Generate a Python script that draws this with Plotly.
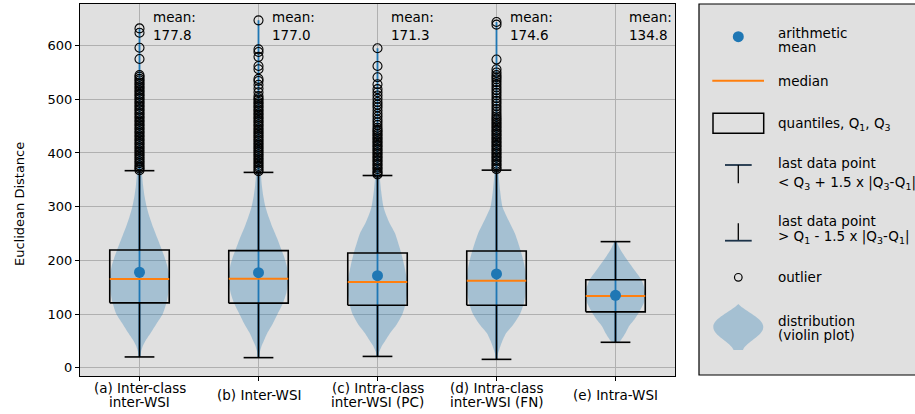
import plotly.graph_objects as go

# ---------------- data ----------------
categories = ["(a) Inter-class\ninter-WSI", "(b) Inter-WSI", "(c) Intra-class\ninter-WSI (PC)",
              "(d) Intra-class\ninter-WSI (FN)", "(e) Intra-WSI"]
positions = [1, 2, 3, 4, 5]
means = [177.8, 177.0, 171.3, 174.6, 134.8]
medians = [165.0, 165.6, 159.4, 161.9, 133.3]
q1 = [120.8, 120.2, 116.4, 116.4, 104.0]
q3 = [219.3, 218.0, 213.6, 217.4, 163.7]
whisker_low = [20.0, 18.7, 21.0, 15.5, 47.3]
whisker_high = [367.0, 363.8, 358.0, 368.0, 234.8]

outliers_a = [632, 624, 596, 575, 545, 542, 538, 535, 531, 528, 524, 521, 517, 514, 510, 507, 503, 500,
              496, 493, 489, 486, 482, 479, 475, 472, 468, 465, 461, 458, 454, 451, 447, 444, 440, 437,
              433, 430, 426, 423, 419, 416, 412, 409, 405, 402, 398, 395, 391, 388, 384, 381, 377, 374,
              371, 368]
outliers_b = [647, 593, 588, 579, 562, 556, 538, 534, 527, 520, 513, 506, 502, 499, 495, 492, 488, 485,
              481, 478, 474, 471, 467, 464, 460, 457, 453, 450, 446, 443, 439, 436, 432, 429, 425, 422,
              418, 415, 411, 408, 404, 401, 397, 394, 390, 387, 383, 380, 376, 373, 369, 366]
outliers_c = [595, 562, 541, 528, 519, 513, 507, 501, 495, 490, 485, 479, 473, 468, 462, 457, 452, 447,
              443, 440, 436, 433, 429, 426, 422, 419, 415, 412, 408, 405, 401, 398, 394, 391, 387, 384,
              380, 377, 373, 370, 366, 363, 360]
outliers_d = [644, 639, 574, 556, 550, 545, 541, 537, 532, 527, 522, 517, 512, 507, 502, 497, 492, 487,
              482, 477, 472, 468, 464, 461, 457, 454, 450, 447, 443, 440, 436, 433, 429, 426, 422, 419,
              415, 412, 408, 405, 401, 398, 394, 391, 387, 384, 380, 377, 373, 370]
outliers_e = []
outliers = [outliers_a, outliers_b, outliers_c, outliers_d, outliers_e]

# violin profiles: value levels and half-widths (in category units)
violin_y_a = [20, 30, 40, 51, 65, 82, 100, 120, 140, 160, 175, 190, 205, 220, 240, 260, 280, 300, 320,
              340, 370, 420, 500, 632]
violin_w_a = [0.004, 0.013, 0.027, 0.053, 0.095, 0.143, 0.195, 0.225, 0.243, 0.25, 0.246, 0.233, 0.212,
              0.187, 0.152, 0.117, 0.086, 0.06, 0.042, 0.03, 0.018, 0.008, 0.003, 0.0]
violin_y_b = [18.7, 30, 40, 50, 65, 82, 100, 120, 140, 160, 175, 190, 205, 220, 240, 260, 280, 300, 320,
              340, 370, 420, 500, 647]
violin_w_b = [0.004, 0.012, 0.025, 0.045, 0.075, 0.12, 0.16, 0.205, 0.235, 0.248, 0.248, 0.237, 0.218,
              0.192, 0.158, 0.12, 0.087, 0.058, 0.04, 0.028, 0.017, 0.008, 0.003, 0.0]
violin_y_c = [21, 30, 40, 50, 64, 80, 100, 120, 140, 155, 170, 190, 213, 235, 250, 270, 285, 300, 330,
              360, 420, 500, 595]
violin_w_c = [0.004, 0.015, 0.035, 0.065, 0.105, 0.16, 0.21, 0.237, 0.25, 0.25, 0.243, 0.225, 0.2, 0.17,
              0.148, 0.1, 0.072, 0.05, 0.03, 0.018, 0.007, 0.002, 0.0]
violin_y_d = [15.5, 25, 35, 50, 64, 80, 101, 120, 140, 160, 180, 200, 220, 250, 275, 300, 330, 360, 420,
              500, 644]
violin_w_d = [0.003, 0.01, 0.025, 0.05, 0.08, 0.14, 0.2, 0.23, 0.245, 0.25, 0.243, 0.225, 0.2, 0.155, 0.1,
              0.05, 0.03, 0.018, 0.007, 0.002, 0.0]
violin_y_e = [47.3, 51, 63, 76, 90, 104, 120, 133, 148, 163, 180, 200, 215, 225, 234.8]
violin_w_e = [0.03, 0.045, 0.08, 0.11, 0.16, 0.2, 0.237, 0.25, 0.243, 0.22, 0.165, 0.1, 0.055, 0.03, 0.008]
violin_ys = [violin_y_a, violin_y_b, violin_y_c, violin_y_d, violin_y_e]
violin_ws = [violin_w_a, violin_w_b, violin_w_c, violin_w_d, violin_w_e]

y_ticks = [0, 100, 200, 300, 400, 500, 600]
y_title = "Euclidean Distance"
legend_labels = [["arithmetic", "mean"], ["median"], ["quantiles, Q<sub>1</sub>, Q<sub>3</sub>"],
                 ["last data point", "< Q<sub>3</sub> + 1.5 x |Q<sub>3</sub>-Q<sub>1</sub>|"],
                 ["last data point", "> Q<sub>1</sub> - 1.5 x |Q<sub>3</sub>-Q<sub>1</sub>|"],
                 ["outlier"], ["distribution", "(violin plot)"]]

# ---------------- style / layout ----------------
W, H = 915, 414
ML, MR, MT, MB = 80, 240, 4, 38
PW, PH = W - ML - MR, H - MT - MB
BLUE = "#1f77b4"
ORANGE = "#ff7f0e"
VIOLIN = "rgba(31,119,180,0.3)"
BG = "#e0e0e0"
GRID = "#b0b0b0"
FONT = "DejaVu Sans"
BOX_HALF = 0.25
CAP_HALF = 0.125


def px(x):
    return (x - ML) / PW


def py(y):
    return (H - MB - y) / PH


fig = go.Figure()

# violins
for p, vy, vw in zip(positions, violin_ys, violin_ws):
    xs = [p + w for w in vw] + [p - w for w in reversed(vw)]
    ys = list(vy) + list(reversed(vy))
    fig.add_trace(go.Scatter(x=xs, y=ys, fill="toself", fillcolor=VIOLIN, mode="lines",
                             line=dict(width=0, color=VIOLIN, shape="spline", smoothing=0.6),
                             hoverinfo="skip", showlegend=False))

# extrema bars of violins (blue)
cx, cy = [], []
for p, lo, hi, out in zip(positions, whisker_low, whisker_high, outliers):
    top = max(out) if out else hi
    cx += [p, p, None]
    cy += [lo, top, None]
fig.add_trace(go.Scatter(x=cx, y=cy, mode="lines", line=dict(color=BLUE, width=1.8),
                         hoverinfo="skip", showlegend=False))

# whiskers (black)
wx, wy = [], []
for p, lo, hi, a, b in zip(positions, whisker_low, whisker_high, q1, q3):
    wx += [p, p, None, p, p, None, p - CAP_HALF, p + CAP_HALF, None, p - CAP_HALF, p + CAP_HALF, None]
    wy += [a, lo, None, b, hi, None, lo, lo, None, hi, hi, None]
fig.add_trace(go.Scatter(x=wx, y=wy, mode="lines", line=dict(color="black", width=1.6),
                         hoverinfo="skip", showlegend=False))

# boxes
bx, by = [], []
for p, a, b in zip(positions, q1, q3):
    bx += [p - BOX_HALF, p + BOX_HALF, p + BOX_HALF, p - BOX_HALF, p - BOX_HALF, None]
    by += [a, a, b, b, a, None]
fig.add_trace(go.Scatter(x=bx, y=by, mode="lines", line=dict(color="black", width=1.6),
                         hoverinfo="skip", showlegend=False))

# medians
mx, my = [], []
for p, m in zip(positions, medians):
    mx += [p - BOX_HALF, p + BOX_HALF, None]
    my += [m, m, None]
fig.add_trace(go.Scatter(x=mx, y=my, mode="lines", line=dict(color=ORANGE, width=2),
                         hoverinfo="skip", showlegend=False))

# outliers
ox, oy = [], []
for p, out in zip(positions, outliers):
    ox += [p] * len(out)
    oy += out
fig.add_trace(go.Scatter(x=ox, y=oy, mode="markers",
                         marker=dict(symbol="circle-open", size=9, color="black", line=dict(width=1.1, color="black")),
                         hoverinfo="skip", showlegend=False))

# means
fig.add_trace(go.Scatter(x=positions, y=means, mode="markers",
                         marker=dict(symbol="circle", size=11, color=BLUE),
                         hoverinfo="skip", showlegend=False))

annotations = []
# mean text
for p, m in zip(positions, means):
    annotations.append(dict(x=p + 0.1, xref="x", y=py(26.5), yref="paper", xanchor="left", yanchor="middle",
                            text=f"mean:<br>{m:.1f}", align="left", showarrow=False,
                            font=dict(family=FONT, size=13.5, color="black")))

# category labels
for p, c in zip(positions, categories):
    lines = c.split("\n")
    n = len(lines)
    for i, ln in enumerate(lines):
        yc = 395 + (i - (n - 1) / 2) * 14.5
        annotations.append(dict(x=p, xref="x", y=py(yc), yref="paper", xanchor="center", yanchor="middle",
                                text=ln, showarrow=False, font=dict(family=FONT, size=13.5, color="black")))

# y title
annotations.append(dict(x=px(19), xref="paper", y=py(204), yref="paper", text=y_title, textangle=-90,
                        xanchor="center", yanchor="middle", showarrow=False,
                        font=dict(family=FONT, size=13, color="black")))

# legend panel texts
legend_line_y = [[33.3, 46.7], [80.5], [124], [163.5, 182.5], [221, 236.5], [277], [320.5, 334.5]]
for labels, ys in zip(legend_labels, legend_line_y):
    for t, yy in zip(labels, ys):
        annotations.append(dict(x=px(776), xref="paper", y=py(yy), yref="paper", xanchor="left",
                                yanchor="middle", text=t, showarrow=False,
                                font=dict(family=FONT, size=13.5, color="black")))

shapes = []
# legend frame
shapes.append(dict(type="rect", xref="paper", yref="paper", x0=px(699), x1=px(940), y0=py(4), y1=py(375),
                   fillcolor=BG, line=dict(color="black", width=1.2), layer="below"))
# mean symbol
shapes.append(dict(type="circle", xref="paper", yref="paper", x0=px(738.3 - 5.5), x1=px(738.3 + 5.5),
                   y0=py(36.7 - 5.5), y1=py(36.7 + 5.5), fillcolor=BLUE, line=dict(width=0)))
# median symbol
shapes.append(dict(type="line", xref="paper", yref="paper", x0=px(712.3), x1=px(764), y0=py(80.7), y1=py(80.7),
                   line=dict(color=ORANGE, width=2)))
# quantile box symbol
shapes.append(dict(type="rect", xref="paper", yref="paper", x0=px(713), x1=px(763.7), y0=py(113.3),
                   y1=py(133.3), line=dict(color="black", width=1.5)))
# upper whisker symbol
shapes.append(dict(type="line", xref="paper", yref="paper", x0=px(725), x1=px(751.7), y0=py(165), y1=py(165),
                   line=dict(color="#1c3349", width=1.8)))
shapes.append(dict(type="line", xref="paper", yref="paper", x0=px(738.3), x1=px(738.3), y0=py(165),
                   y1=py(183.3), line=dict(color="black", width=1.3)))
# lower whisker symbol
shapes.append(dict(type="line", xref="paper", yref="paper", x0=px(738.3), x1=px(738.3), y0=py(223.3),
                   y1=py(240.7), line=dict(color="black", width=1.3)))
shapes.append(dict(type="line", xref="paper", yref="paper", x0=px(725), x1=px(751.7), y0=py(240.7),
                   y1=py(240.7), line=dict(color="#1c3349", width=1.8)))
# outlier symbol
shapes.append(dict(type="circle", xref="paper", yref="paper", x0=px(738.3 - 3.8), x1=px(738.3 + 3.8),
                   y0=py(277.3 - 3.8), y1=py(277.3 + 3.8), line=dict(color="black", width=1.2)))


def path_from(cmds):
    out = []
    for c in cmds:
        if isinstance(c, str):
            out.append(c)
        else:
            out.append(f"{px(c[0]):.5f},{py(c[1]):.5f}")
    return " ".join(out)


violin_path = path_from(["M", (738.3, 304), "C", (746, 312), (763.3, 318), (763.3, 327),
                         "C", (763.3, 336), (746, 342), (743, 350), "L", (733.6, 350),
                         "C", (730.6, 342), (713.3, 336), (713.3, 327),
                         "C", (713.3, 318), (730.6, 312), (738.3, 304), "Z"])
shapes.append(dict(type="path", xref="paper", yref="paper", path=violin_path, fillcolor=VIOLIN,
                   line=dict(width=0)))

fig.update_layout(
    width=W, height=H, margin=dict(l=ML, r=MR, t=MT, b=MB),
    paper_bgcolor="white", plot_bgcolor=BG,
    showlegend=False, annotations=annotations, shapes=shapes,
    font=dict(family=FONT, size=13, color="black"),
)
fig.update_xaxes(range=[0.5, 5.5], tickvals=positions, ticktext=[""] * len(positions), showgrid=True,
                 gridcolor=GRID, gridwidth=1, zeroline=False, showline=True, linecolor="black", linewidth=1.2,
                 mirror=True, ticks="outside", ticklen=4, tickcolor="black")
fig.update_yaxes(range=[-15.5, 677.5], tickvals=y_ticks, ticktext=[str(v) for v in y_ticks], showgrid=True,
                 gridcolor=GRID, gridwidth=1, zeroline=False, showline=True, linecolor="black", linewidth=1.2,
                 mirror=True, ticks="outside", ticklen=4, tickcolor="black",
                 tickfont=dict(family=FONT, size=13, color="black"))

fig.write_html("out.html", config={"displayModeBar": False},
               post_script="document.body.style.margin='0';document.body.style.overflow='hidden';")
